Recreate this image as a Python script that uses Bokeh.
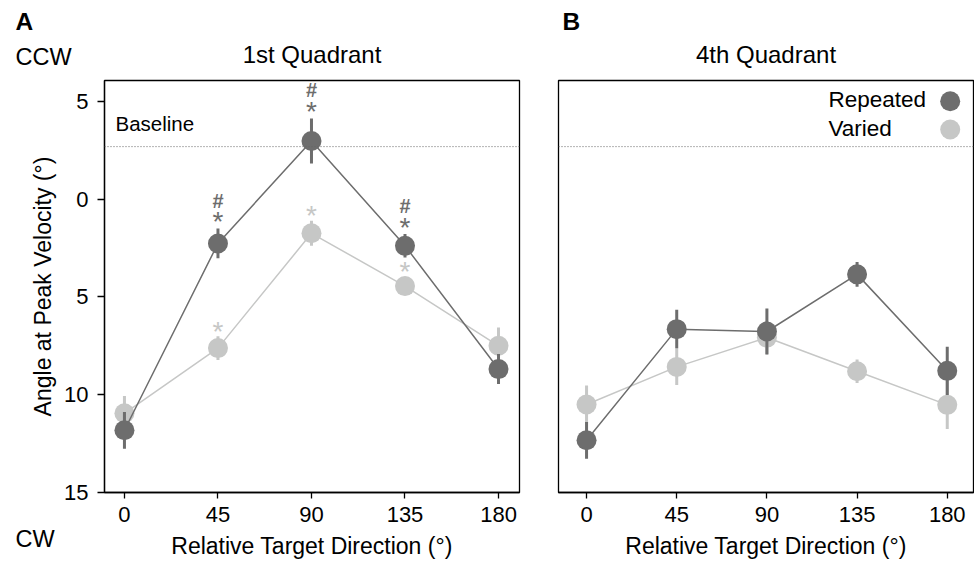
import numpy as np
from bokeh.plotting import figure
from bokeh.models import Range1d, FixedTicker, CustomJSTickFormatter, Label, Span
from bokeh.layouts import row, column
from bokeh.embed import file_html
from bokeh.resources import INLINE
from bokeh.core.properties import value

# ---------------- data ----------------
directions = [0, 45, 90, 135, 180]
x_ticks = [0, 45, 90, 135, 180]
y_ticks = [-15, -10, -5, 0, 5]

a_repeated = [-11.82, -2.27, 2.97, -2.39, -8.69]
a_repeated_err = [0.94, 0.76, 1.15, 0.60, 0.77]
a_varied = [-10.95, -7.62, -1.75, -4.45, -7.50]
a_varied_err = [0.88, 0.61, 0.64, 0.47, 0.93]

b_repeated = [-12.33, -6.65, -6.77, -3.85, -8.78]
b_repeated_err = [0.94, 0.99, 1.18, 0.63, 1.23]
b_varied = [-10.50, -8.58, -7.08, -8.80, -10.52]
b_varied_err = [0.97, 0.92, 0.85, 0.60, 1.24]

baseline = 2.68

# significance marks in panel A (directions)
a_rep_star = [45, 90, 135]
a_rep_hash = [45, 90, 135]
a_var_star = [45, 90, 135]

# ---------------- style ----------------
FONT = "Liberation Sans"
DARK = "#6d6d6d"
LIGHT = "#c6c7c6"
TOTAL_W = 974
HEAD_H = 79
PLOT_H = 483
STRIP_W = 60
BT, BB = 1, 70
FRAME_W = 415
FRAME_H = PLOT_H - BT - BB
Y_RANGE = (-15.0, 6.06)
CENTER_SHIFT = 0.36   # labels are drawn centred on y: move up to put baseline at y


def text_fig(width, height):
    f = figure(width=width, height=height, x_range=Range1d(0, width), y_range=Range1d(0, height),
               output_backend="svg", toolbar_location=None,
               x_axis_location=None, y_axis_location=None,
               min_border_left=0, min_border_right=0, min_border_top=0, min_border_bottom=0)
    f.grid.visible = False
    f.outline_line_color = None
    f.background_fill_color = "white"
    f.border_fill_color = "white"
    return f


def clabel(p, x, y, text, size, bold=False, align="left", angle=0.0):
    if angle:
        x = x - CENTER_SHIFT * size
    else:
        y = y - CENTER_SHIFT * size
    p.add_layout(Label(x=x, y=y, x_units="canvas", y_units="canvas",
                       text=text, text_font=FONT, text_font_size=f"{size}px",
                       text_font_style="bold" if bold else "normal",
                       text_align=align, text_baseline="alphabetic", angle=angle,
                       text_color="black"))


def make_fig(width, bl, br, xr, show_y):
    p = figure(width=width, height=PLOT_H, x_range=Range1d(*xr), y_range=Range1d(*Y_RANGE),
               output_backend="svg", toolbar_location=None,
               min_border_left=bl, min_border_right=br, min_border_top=BT, min_border_bottom=BB)
    p.grid.visible = False
    p.background_fill_color = "white"
    p.border_fill_color = "white"
    p.outline_line_color = "black"
    p.outline_line_width = 1.3
    p.outline_line_alpha = 1.0
    for ax in (p.xaxis[0], p.yaxis[0]):
        ax.axis_line_color = "black"
        ax.axis_line_width = 1.3
        ax.major_tick_line_color = "black"
        ax.major_tick_line_width = 1.3
        ax.major_tick_in = 0
        ax.minor_tick_line_color = None
        ax.major_label_text_font = FONT
        ax.major_label_text_font_size = "22px"
        ax.major_label_text_color = "black"
    p.xaxis.ticker = FixedTicker(ticks=x_ticks)
    p.xaxis.major_tick_out = 6
    p.xaxis.major_label_standoff = 8
    p.xaxis.axis_label = "Relative Target Direction (°)"
    p.xaxis.axis_label_text_font = FONT
    p.xaxis.axis_label_text_font_size = "23px"
    p.xaxis.axis_label_text_font_style = "normal"
    p.xaxis.axis_label_text_color = "black"
    p.xaxis.axis_label_standoff = 8
    p.yaxis.ticker = FixedTicker(ticks=y_ticks)
    p.yaxis.major_tick_out = 7
    p.yaxis.major_label_standoff = 9
    p.yaxis.formatter = CustomJSTickFormatter(code="return String(Math.abs(tick));")
    if not show_y:
        p.yaxis.visible = False
    p.add_layout(Span(location=baseline, dimension="width", line_color="#666666",
                      line_dash="1 2", line_width=1))
    return p


def series(p, means, errs, color):
    m = np.array(means)
    e = np.array(errs)
    p.line(directions, m, line_color=color, line_width=1.5)
    p.segment(x0=directions, y0=m - e, x1=directions, y1=m + e, line_color=color, line_width=3)
    p.scatter(directions, m, size=20, fill_color=color, line_color=None)


def sig(p, marks, means, errs, text, color, size, yoff, bold=False):
    xs = list(marks)
    ys = [means[directions.index(d)] + errs[directions.index(d)] for d in marks]
    p.text(x=xs, y=ys, text=[text] * len(xs), text_font=value(FONT),
           text_font_size=f"{size}px", text_color=color, text_align="center",
           text_baseline="middle", y_offset=yoff,
           text_font_style="bold" if bold else "normal")


# ---------------- left strip (y title, CW) ----------------
strip = text_fig(STRIP_W, PLOT_H)
clabel(strip, 51, BT + FRAME_H / 2, "Angle at Peak Velocity (°)", 23, align="center", angle=np.pi / 2)
clabel(strip, 15, 467.7, "CW", 23.5)

# ---------------- panel A ----------------
A_BL, A_BR = 104 - STRIP_W, 19
A_W = A_BL + FRAME_W + A_BR
pA = make_fig(A_W, A_BL, A_BR, (-9.6, 190.1), True)
series(pA, a_varied, a_varied_err, LIGHT)
series(pA, a_repeated, a_repeated_err, DARK)
sig(pA, a_var_star, a_varied, a_varied_err, "*", LIGHT, 28, -5)
sig(pA, a_rep_star, a_repeated, a_repeated_err, "*", DARK, 28, -7)
sig(pA, a_rep_hash, a_repeated, a_repeated_err, "#", DARK, 20, -28, bold=True)
clabel(pA, A_BL + 11, 51.7, "Baseline", 20.5)

# ---------------- panel B ----------------
B_BL, B_BR = 20, 1
B_XR = (-14.0, 193.1)
pB = make_fig(B_BL + FRAME_W + B_BR, B_BL, B_BR, B_XR, False)
series(pB, b_varied, b_varied_err, LIGHT)
series(pB, b_repeated, b_repeated_err, DARK)

# legend (text left, marker right)
clabel(pB, 290, 28.3, "Repeated", 22.5)
clabel(pB, 290, 57, "Varied", 22.5)
px_x = FRAME_W / (B_XR[1] - B_XR[0])
px_y = FRAME_H / (Y_RANGE[1] - Y_RANGE[0])
leg_x = B_XR[1] - 23.3 / px_x
pB.scatter([leg_x], [Y_RANGE[1] - 20.7 / px_y], size=20, fill_color=DARK, line_color=None)
pB.scatter([leg_x], [Y_RANGE[1] - 49 / px_y], size=20, fill_color=LIGHT, line_color=None)

# ---------------- header texts ----------------
A_RIGHT = STRIP_W + A_W
head = text_fig(TOTAL_W, HEAD_H)
clabel(head, 15, 30, "A", 24.5, bold=True)
clabel(head, 15, 65, "CCW", 23.5)
clabel(head, 104 + FRAME_W / 2, 62.7, "1st Quadrant", 24, align="center")
clabel(head, A_RIGHT + 24, 30, "B", 24.5, bold=True)
clabel(head, A_RIGHT + B_BL + FRAME_W / 2, 62.2, "4th Quadrant", 24, align="center")

layout = column(head, row(strip, row(pA, pB)))
open("out.html", "w").write(file_html(layout, INLINE))
